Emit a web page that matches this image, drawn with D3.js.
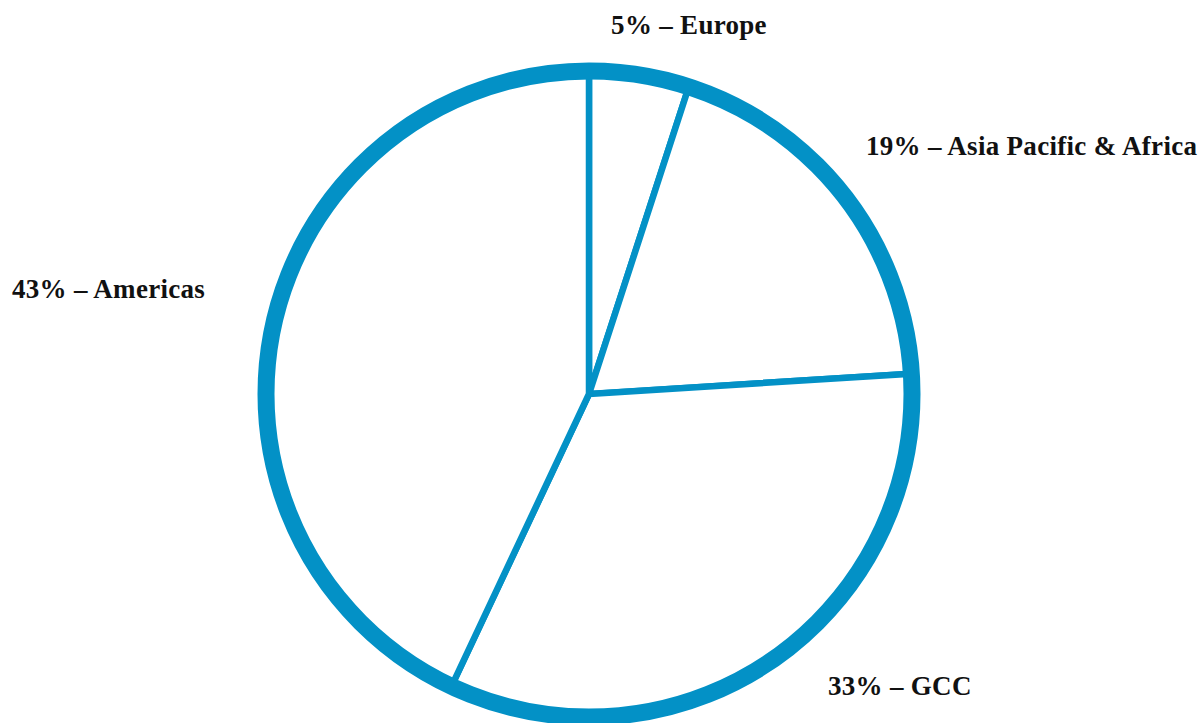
<!DOCTYPE html>
<html>
<head>
<meta charset="utf-8">
<script src="https://cdn.jsdelivr.net/npm/d3@7"></script>
<style>
  html, body { margin: 0; padding: 0; background: #ffffff; }
  svg { display: block; }
  .label { font-family: "Liberation Serif", "DejaVu Serif", serif; font-weight: bold; fill: #111111; }
</style>
</head>
<body>
<svg id="chart" width="1200" height="723"></svg>
<script>
// Revenue share by region (percent)
const regions = ["Europe", "Asia Pacific & Africa", "GCC", "Americas"];
const shares = [5, 19, 33, 43];

const width = 1200, height = 723;
const cx = 589, cy = 394, radius = 323;
const blue = "#0391c6";

// Label anchor points (x, baseline y, text-anchor) for each region
const labelLayout = [
  { x: 689, y: 34, anchor: "middle" },
  { x: 866, y: 155, anchor: "start" },
  { x: 828, y: 695, anchor: "start" },
  { x: 12, y: 298, anchor: "start" }
];

const svg = d3.select("#chart");
const data = regions.map((r, i) => ({ region: r, value: shares[i] }));

const pie = d3.pie().value(d => d.value).sort(null).startAngle(0).endAngle(2 * Math.PI);
const arc = d3.arc().innerRadius(0).outerRadius(radius);

const g = svg.append("g").attr("transform", `translate(${cx},${cy})`);

g.selectAll("path.slice")
  .data(pie(data))
  .join("path")
  .attr("class", "slice")
  .attr("d", arc)
  .attr("fill", "#ffffff")
  .attr("stroke", blue)
  .attr("stroke-width", 6.5)
  .attr("stroke-linejoin", "miter");

// Heavy outer rim
g.append("circle")
  .attr("r", radius)
  .attr("fill", "none")
  .attr("stroke", blue)
  .attr("stroke-width", 17);

svg.selectAll("text.label")
  .data(data)
  .join("text")
  .attr("class", "label")
  .attr("x", (d, i) => labelLayout[i].x)
  .attr("y", (d, i) => labelLayout[i].y)
  .attr("text-anchor", (d, i) => labelLayout[i].anchor)
  .attr("font-size", 27)
  .attr("letter-spacing", 0.3)
  .text(d => `${d.value}% \u2013 ${d.region}`);
</script>
</body>
</html>
